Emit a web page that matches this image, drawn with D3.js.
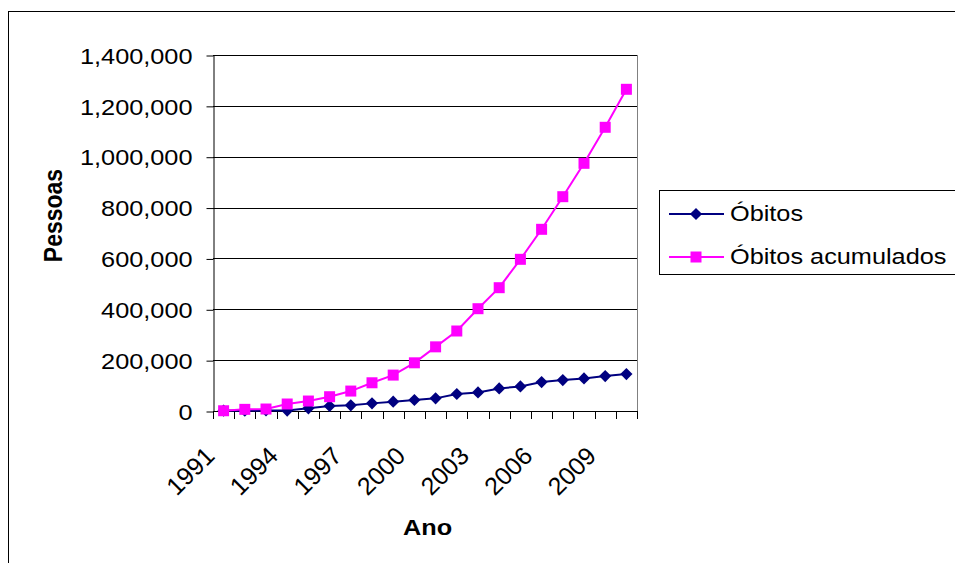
<!DOCTYPE html>
<html>
<head>
<meta charset="utf-8">
<script src="https://cdn.jsdelivr.net/npm/d3@7"></script>
<style>
  html, body { margin: 0; padding: 0; background: #fff; }
  svg { display: block; font-family: "Liberation Sans", Arial, sans-serif; }
</style>
</head>
<body>
<svg id="chart" width="955" height="563"></svg>
<script>
// ---- data ----
const years = ["1991","1992","1993","1994","1995","1996","1997","1998","1999","2000",
               "2001","2002","2003","2004","2005","2006","2007","2008","2009","2010"];
const obitos = [1500, 1000, 2000, 1500, 10500, 19600, 22200, 30000, 36600, 43100,
                49700, 66700, 73200, 88900, 96700, 113700, 121600, 128100, 137300, 145100];
const acumulados = [1000, 6500, 7800, 27500, 39200, 56200, 78400, 111000, 141200, 189500,
                    252300, 314600, 402300, 484900, 596500, 714500, 842800, 974000, 1115700, 1265100];
const yTicks = [0, 200000, 400000, 600000, 800000, 1000000, 1200000, 1400000];
const xLabelYears = ["1991","1994","1997","2000","2003","2006","2009"];
const seriesNames = ["Óbitos", "Óbitos acumulados"];
const yTitle = "Pessoas";
const xTitle = "Ano";

// ---- layout ----
const plot = { left: 213, right: 637, top: 55, bottom: 411 };
const SX = 1.15; // horizontal text stretch
const navy = "#000080", pink = "#FF00FF";

const svg = d3.select("#chart");
svg.append("rect").attr("width", 955).attr("height", 563).attr("fill", "#fff");
// chart area border
svg.append("rect").attr("x", 8.5).attr("y", 11.5).attr("width", 960).attr("height", 570)
  .attr("fill", "none").attr("stroke", "#000").attr("stroke-width", 1);

const x = d3.scaleBand().domain(years).range([plot.left, plot.right]).padding(0);
const y = d3.scaleLinear().domain([0, 1400000]).range([plot.bottom, plot.top]);
const cx = d => x(d) + x.bandwidth() / 2;

// gridlines
svg.append("g").selectAll("line").data(yTicks.filter(v => v > 0)).join("line")
  .attr("x1", plot.left).attr("x2", plot.right)
  .attr("y1", d => Math.round(y(d)) + 0.5).attr("y2", d => Math.round(y(d)) + 0.5)
  .attr("stroke", "#000").attr("stroke-width", 1);

// plot right border
svg.append("line").attr("x1", plot.right + 0.5).attr("x2", plot.right + 0.5)
  .attr("y1", plot.top).attr("y2", plot.bottom).attr("stroke", "#808080");

// y axis
const yAxis = svg.append("g").attr("transform", `translate(${plot.left + 0.5},0.5)`)
  .call(d3.axisLeft(y).tickValues(yTicks).tickFormat(d3.format(",")).tickSize(7).tickSizeOuter(0));
yAxis.select(".domain").attr("stroke", "#000");
yAxis.selectAll(".tick line").attr("stroke", "#000");
yAxis.selectAll(".tick text")
  .attr("x", 0).attr("dy", "0.35em")
  .attr("transform", `translate(-21,0) scale(${SX},1)`)
  .attr("font-size", 22).attr("fill", "#000")
  .attr("font-family", "Liberation Sans, Arial, sans-serif");

// x axis line
svg.append("line").attr("x1", plot.left).attr("x2", plot.right + 1)
  .attr("y1", plot.bottom + 0.5).attr("y2", plot.bottom + 0.5).attr("stroke", "#000");
// x ticks at category boundaries
const boundaries = years.map(d => x(d)).concat([plot.right]);
svg.append("g").selectAll("line").data(boundaries).join("line")
  .attr("x1", d => Math.round(d) + 0.5).attr("x2", d => Math.round(d) + 0.5)
  .attr("y1", plot.bottom).attr("y2", plot.bottom + 8).attr("stroke", "#000");
// x labels (rotated)
svg.append("g").selectAll("text").data(xLabelYears).join("text")
  .attr("transform", d => `translate(${cx(d) - 7.5},457.5) rotate(-45)`)
  .attr("text-anchor", "end").attr("font-size", 25).attr("fill", "#000")
  .text(d => d);

// lines
const line = d3.line().x((d, i) => cx(years[i])).y(d => y(d));
svg.append("path").datum(obitos).attr("d", line)
  .attr("fill", "none").attr("stroke", navy).attr("stroke-width", 2);
svg.append("g").selectAll("path").data(obitos).join("path")
  .attr("d", d3.symbol().type(d3.symbolSquare).size(74))
  .attr("transform", (d, i) => `translate(${cx(years[i])},${y(d)}) rotate(45)`)
  .attr("fill", navy);

svg.append("path").datum(acumulados).attr("d", line)
  .attr("fill", "none").attr("stroke", pink).attr("stroke-width", 2);
svg.append("g").selectAll("path").data(acumulados).join("path")
  .attr("d", d3.symbol().type(d3.symbolSquare).size(121))
  .attr("transform", (d, i) => `translate(${cx(years[i])},${y(d)})`)
  .attr("fill", pink);

// axis titles
svg.append("text")
  .attr("transform", `translate(61.5,215.5) scale(${SX},1) rotate(-90)`)
  .attr("text-anchor", "middle").attr("font-size", 23).attr("font-weight", "bold")
  .text(yTitle);
svg.append("text")
  .attr("transform", `translate(427.5,535) scale(${SX},1)`)
  .attr("text-anchor", "middle").attr("font-size", 22).attr("font-weight", "bold")
  .text(xTitle);

// legend
const lg = svg.append("g");
lg.append("rect").attr("x", 659.5).attr("y", 190.5).attr("width", 310).attr("height", 84)
  .attr("fill", "#fff").attr("stroke", "#000");
const legendItems = [
  { name: seriesNames[0], color: navy, sym: "diamond", yy: 214 },
  { name: seriesNames[1], color: pink, sym: "square", yy: 257 }
];
legendItems.forEach(it => {
  lg.append("line").attr("x1", 669).attr("x2", 724).attr("y1", it.yy).attr("y2", it.yy)
    .attr("stroke", it.color).attr("stroke-width", 2);
  if (it.sym === "diamond") {
    lg.append("path").attr("d", d3.symbol().type(d3.symbolSquare).size(74))
      .attr("transform", `translate(696,${it.yy}) rotate(45)`).attr("fill", it.color);
  } else {
    lg.append("path").attr("d", d3.symbol().type(d3.symbolSquare).size(121))
      .attr("transform", `translate(696,${it.yy})`).attr("fill", it.color);
  }
  lg.append("text").attr("transform", `translate(730,${it.yy + 7}) scale(${SX},1)`)
    .attr("font-size", 22).attr("fill", "#000").text(it.name);
});
</script>
</body>
</html>
